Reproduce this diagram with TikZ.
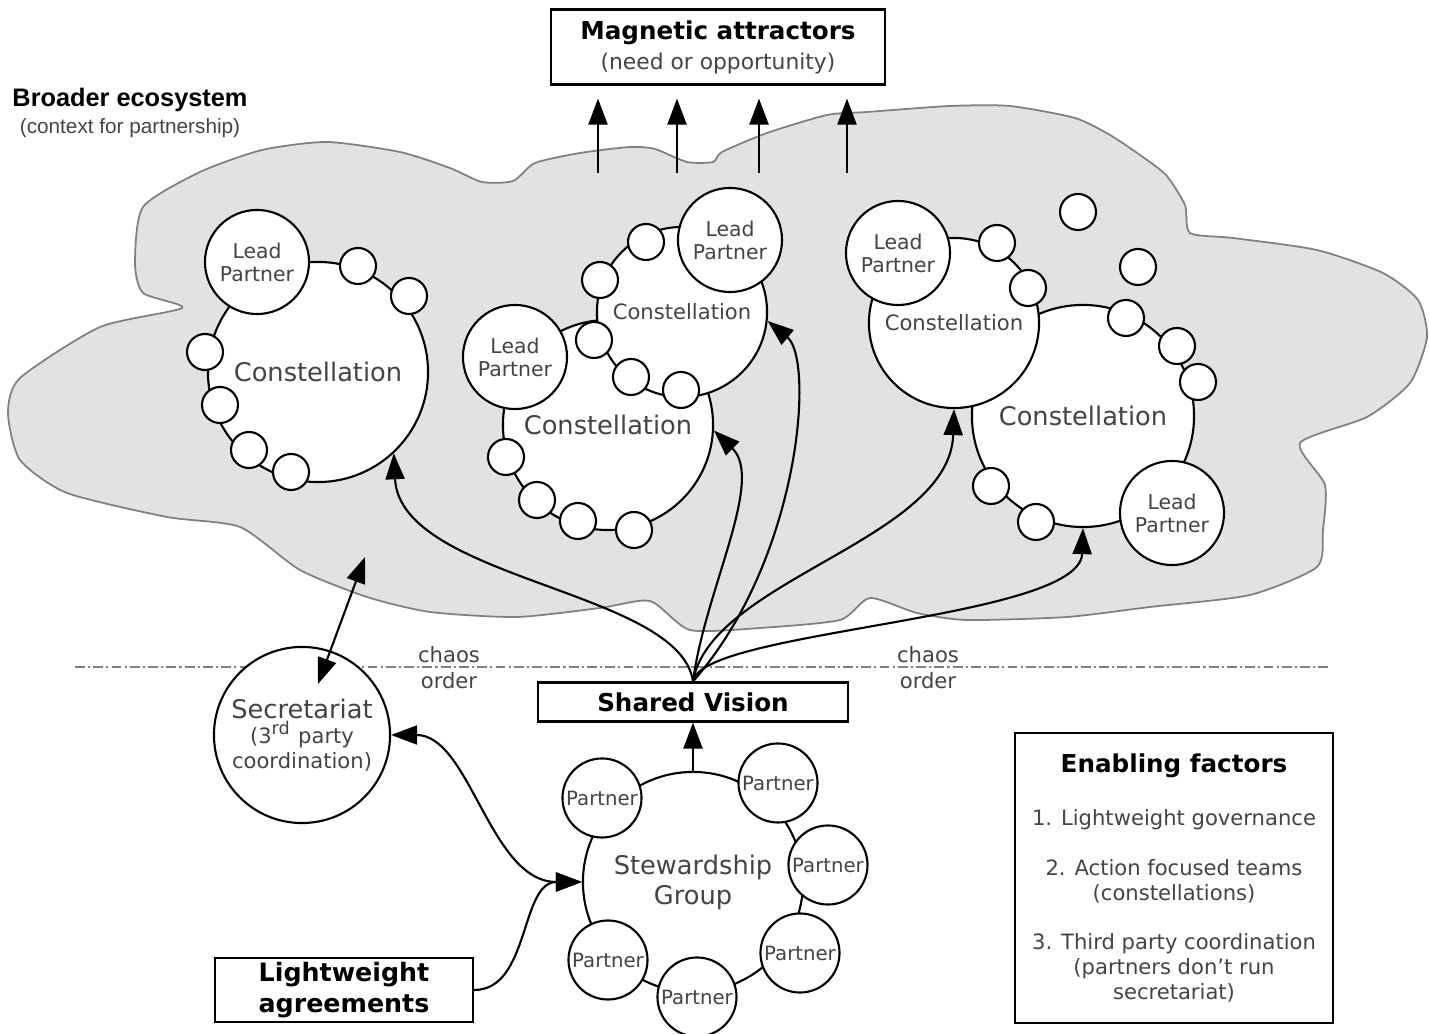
\documentclass[tikz,border=0pt]{standalone}
\usepackage{fontspec}
\setmainfont{DejaVu Sans}
\newfontfamily\arialfont{Liberation Sans}
\usetikzlibrary{arrows.meta}
\definecolor{txtgray}{RGB}{68,68,68}
\definecolor{cloudfill}{RGB}{226,226,226}
\definecolor{cloudline}{RGB}{128,128,128}

\begin{document}
\begin{tikzpicture}[x=0.01cm,y=-0.01cm,
	every node/.style={text=txtgray},
	constel/.style={circle,draw,fill=white,inner sep=0,line width=0.6pt,font=\fontsize{7.3}{8.5}\selectfont},
	lead/.style={circle,draw,fill=white,inner sep=0,line width=0.6pt,minimum size=10.4mm,align=center,font=\fontsize{5.8}{6.5}\selectfont},
	sat/.style={circle,draw,fill=white,inner sep=0,line width=0.6pt,minimum size=3.6mm},
	partner/.style={circle,draw,fill=white,inner sep=0,line width=0.6pt,minimum size=7.9mm,font=\fontsize{5.6}{6}\selectfont},
	tbox/.style={draw,fill=white,line width=0.6pt,inner sep=0,align=center,text=black},
	arr/.style={line width=0.6pt,-{Triangle[length=2.6mm,width=1.9mm]}},
	dblarr/.style={line width=0.6pt,{Triangle[length=2.6mm,width=1.9mm]}-{Triangle[length=2.6mm,width=1.9mm]}}]
		\useasboundingbox (0,0) rectangle (1429,1034);
		\draw[cloudline,fill=cloudfill,line width=0.5pt] plot[smooth cycle,tension=0.4] coordinates {(143,207) (200,172) (262,150) (327,142) (400,152) (450,168) (482,182) (513,181) (535,163) (580,153) (630,147) (655,149) (687,162) (713,162) (722,152) (767,133) (827,115) (867,112) (950,106) (1010,106) (1075,118) (1110,135) (1140,155) (1166,175) (1185,205) (1190,233) (1233,238) (1317,250) (1383,273) (1418,300) (1427,337) (1410,383) (1367,417) (1300,443) (1325,485) (1323,530) (1317,567) (1250,595) (1150,607) (1067,617) (967,620) (917,613) (870,598) (840,620) (760,628) (690,630) (650,601) (600,608) (517,617) (430,612) (367,597) (300,570) (240,527) (167,517) (67,493) (20,460) (8,413) (20,378) (100,327) (182,308) (143,293) (135,263)};
		\draw[cloudline,line width=0.5pt,dash pattern=on 2.8pt off 0.9pt on 0.6pt off 0.9pt] (75,667) -- (1328,667);
		\node[font=\fontsize{6}{7.4}\selectfont,align=center] (co1) at (449,668) {chaos\\order};
		\node[font=\fontsize{6}{7.4}\selectfont,align=center] (co2) at (928,668) {chaos\\order};
		\node[font=\arialfont\fontsize{7.2}{7.6}\selectfont,align=center,text=black] (eco) at (130,113) {\textbf{Broader ecosystem}\\{\fontsize{5.9}{7.6}\selectfont\color{txtgray}(context for partnership)}};
		\node[tbox,minimum width=3.33cm,minimum height=0.75cm,font=\fontsize{7}{8.5}\selectfont] (magnet) at (718,47) {\textbf{Magnetic attractors}\\{\fontsize{6.2}{8.5}\selectfont\color{txtgray}(need or opportunity)}};
		\foreach \x [count=\i] in {598,677,759,847} {
			\coordinate (up\i) at (\x,173);
			\draw[arr,shorten >=1.3mm] (up\i) -- (up\i |- magnet.south);
		}
		\node[constel,minimum size=2.1cm] (c2) at (608,425) {Constellation};
		\node[constel,minimum size=1.7cm,font=\fontsize{6}{7}\selectfont] (c3) at (682,312) {Constellation};
		\node[constel,minimum size=2.2cm] (c1) at (318,372) {Constellation};
		\node[constel,minimum size=2.22cm] (c5) at (1083,416) {Constellation};
		\node[constel,minimum size=1.7cm,font=\fontsize{6}{7}\selectfont] (c4) at (954,323) {Constellation};
		\node[lead] (lp1) at (257,262) {Lead\\Partner};
		\node[lead] (lp2) at (515,357) {Lead\\Partner};
		\node[lead] (lp3) at (730,240) {Lead\\Partner};
		\node[lead] (lp4) at (898,253) {Lead\\Partner};
		\node[lead] (lp5) at (1172,513) {Lead\\Partner};
		\foreach \x/\y [count=\i] in {358/266,409/296,205/352,220/405,249/450,291/472,506/457,537/500,578/521,634/530,646/242,600/280,594/340,631/377,681/390,997/243,1028/288,1078/212,1138/267,1126/318,1177/346,1198/382,991/486,1036/522} {
			\node[sat] (s\i) at (\x,\y) {};
		}
		\node[tbox,minimum width=3.1cm,minimum height=0.39cm,font=\fontsize{7}{8}\selectfont\bfseries] (vision) at (693,702) {Shared Vision};
		\node[constel,minimum size=2.2cm,align=center] (stew) at (693,882) {Stewardship\\Group};
		\foreach \x/\y [count=\i] in {602/798,778/783,828/865,800/953,697/997,608/960} {
			\node[partner] (p\i) at (\x,\y) {Partner};
		}
		\node[constel,minimum size=1.76cm,align=center,font=\fontsize{6}{7.1}\selectfont] (secr) at (302,735) {{\fontsize{7.3}{8}\selectfont Secretariat}\\(3\textsuperscript{rd} party\\coordination)};
		\node[tbox,minimum width=2.58cm,minimum height=0.64cm,font=\fontsize{7.2}{8.7}\selectfont\bfseries] (light) at (344,990) {Lightweight\\agreements};
		\node[tbox,text=txtgray,minimum width=3.17cm,minimum height=2.9cm,font=\fontsize{6}{7.1}\selectfont] (enable) at (1174,878) {\textcolor{black}{\bfseries\fontsize{7}{7.1}\selectfont Enabling factors}\\[7.9pt]1. Lightweight governance\\[7.3pt]2. Action focused teams\\(constellations)\\[6.8pt]3. Third party coordination\\(partners don't run\\secretariat)};
		\draw[arr] (stew.north) -- (vision.south);
		\draw[arr] (vision.north) .. controls (680,590) and (400,580) .. (c1.-47);
		\draw[arr] (vision.north) .. controls (705,590) and (765,480) .. (c2.-3);
		\draw[arr] (vision.north) .. controls (800,560) and (815,360) .. (c3.-6);
		\draw[arr] (vision.north) .. controls (710,580) and (950,540) .. (c4.south);
		\draw[arr] (vision.north) .. controls (700,630) and (1080,620) .. (c5.south);
		\coordinate (ecopt) at (365,557);
		\coordinate (secpt) at (318,684);
		\draw[dblarr] (ecopt) -- (secpt);
		\draw[dblarr] (secr.east) .. controls (470,735) and (490,882) .. (stew.west);
		\draw[arr] (light.east) .. controls (530,990) and (520,882) .. (stew.west);
\end{tikzpicture}
\end{document}
